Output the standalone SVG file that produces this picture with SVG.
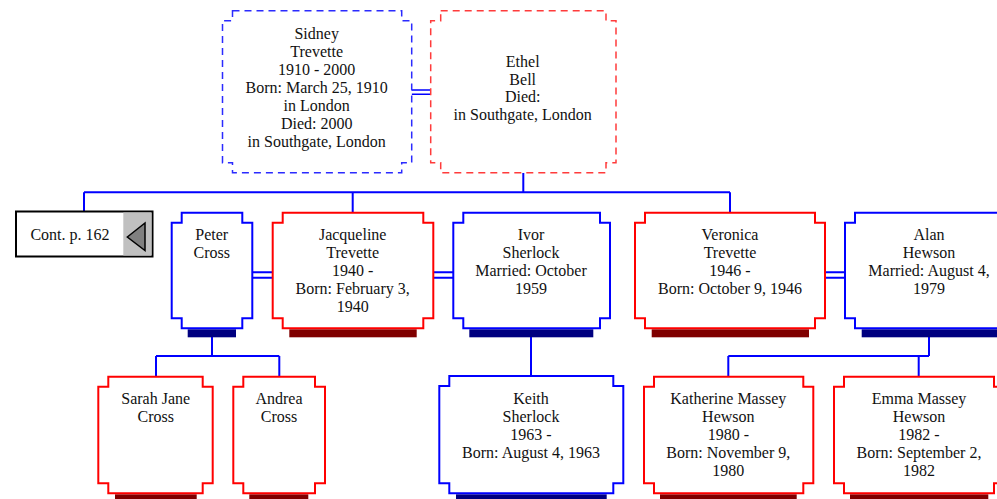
<svg xmlns="http://www.w3.org/2000/svg" width="997" height="499" viewBox="0 0 997 499">
<style>
.t{font-family:"Liberation Serif","Times New Roman",serif;font-size:16px;fill:#111;text-anchor:middle}
.bm{fill:#fff;stroke:#0000ff;stroke-width:2}
.bf{fill:#fff;stroke:#ff0000;stroke-width:2}
.dm{fill:#fff;stroke:#2b2bff;stroke-width:1.5;stroke-dasharray:7 5}
.df{fill:#fff;stroke:#ff3b3b;stroke-width:1.5;stroke-dasharray:7 5}
.sm{fill:#000080}
.sf{fill:#800000}
.c{fill:none;stroke:#0000ff;stroke-width:2}
.c2{fill:none;stroke:#0000ff;stroke-width:1.5}
</style>
<rect width="997" height="499" fill="#fff"/>
<g id="connectors">
<path class="c2" d="M411.5,90H430.5M411.5,94.3H430.5"/>
<path class="c" d="M523.3,173V192.3M84,192.3H730M84,192.3V211.5M352.7,192.3V212.7M730,192.3V212.7"/>
<path class="c" d="M252.3,272.3H272.7M252.3,277.7H272.7"/>
<path class="c" d="M433.3,272.3H453.3M433.3,277.7H453.3"/>
<path class="c" d="M825,272.3H845M825,277.7H845"/>
<path class="c" d="M212,337V356M156,356H279.3M156,356V376.7M279.3,356V376.7"/>
<path class="c" d="M531,337V376"/>
<path class="c" d="M929,337V356M728.3,356H929M728.3,356V376.7M918.7,356V376.7"/>
</g>
<g id="sidney">
<path class="dm" d="M232.5,10.7H401.7V20.7H411.7V162.7H401.7V172.7H232.5V162.7H222.5V20.7H232.5Z"/>
<text class="t" x="316.7" y="39.3">Sidney</text>
<text class="t" x="316.7" y="57.3">Trevette</text>
<text class="t" x="316.7" y="75.3">1910 - 2000</text>
<text class="t" x="316.7" y="93.3">Born: March 25, 1910</text>
<text class="t" x="316.7" y="111.3">in London</text>
<text class="t" x="316.7" y="129.3">Died: 2000</text>
<text class="t" x="316.7" y="147.3">in Southgate, London</text>
</g>
<g id="ethel">
<path class="df" d="M440.7,10.7H606V20.7H616V162.7H606V172.7H440.7V162.7H430.7V20.7H440.7Z"/>
<text class="t" x="522.7" y="66.8">Ethel</text>
<text class="t" x="522.7" y="84.6">Bell</text>
<text class="t" x="522.7" y="102.4">Died:</text>
<text class="t" x="522.7" y="120.2">in Southgate, London</text>
</g>
<g id="cont">
<rect x="16" y="211.5" width="136.5" height="45" fill="#fff" stroke="#000" stroke-width="2"/>
<rect x="123.3" y="212.5" width="28.2" height="43" fill="#c0c0c0"/>
<polygon points="127.3,237 145,223 145,250.5" fill="#808080" stroke="#000" stroke-width="1.5"/>
<text class="t" x="70" y="240">Cont. p. 162</text>
</g>
<g id="peter">
<rect class="sm" x="187.7" y="329.3" width="48.3" height="8"/>
<path class="bm" d="M181.7,212.7H242.3V222.7H252.3V318.3H242.3V328.3H181.7V318.3H171.7V222.7H181.7Z"/>
<text class="t" x="211.7" y="239.5">Peter</text>
<text class="t" x="211.7" y="257.5">Cross</text>
</g>
<g id="jacqueline">
<rect class="sf" x="289.3" y="329.3" width="127.4" height="8"/>
<path class="bf" d="M282.7,212.7H423.3V222.7H433.3V318.3H423.3V328.3H282.7V318.3H272.7V222.7H282.7Z"/>
<text class="t" x="352.7" y="239.5">Jacqueline</text>
<text class="t" x="352.7" y="257.5">Trevette</text>
<text class="t" x="352.7" y="275.5">1940 -</text>
<text class="t" x="352.7" y="293.5">Born: February 3,</text>
<text class="t" x="352.7" y="311.5">1940</text>
</g>
<g id="ivor">
<rect class="sm" x="469.3" y="329.3" width="124" height="8"/>
<path class="bm" d="M463.3,212.7H600V222.7H610V318.3H600V328.3H463.3V318.3H453.3V222.7H463.3Z"/>
<text class="t" x="531" y="239.5">Ivor</text>
<text class="t" x="531" y="257.5">Sherlock</text>
<text class="t" x="531" y="275.5">Married: October</text>
<text class="t" x="531" y="293.5">1959</text>
</g>
<g id="veronica">
<rect class="sf" x="651.7" y="329.3" width="157.3" height="8"/>
<path class="bf" d="M645,212.7H815V222.7H825V318.3H815V328.3H645V318.3H635V222.7H645Z"/>
<text class="t" x="730" y="239.5">Veronica</text>
<text class="t" x="730" y="257.5">Trevette</text>
<text class="t" x="730" y="275.5">1946 -</text>
<text class="t" x="730" y="293.5">Born: October 9, 1946</text>
</g>
<g id="alan">
<rect class="sm" x="861.7" y="329.3" width="135.3" height="8"/>
<path class="bm" d="M855,212.7H1003V222.7H1013V318.3H1003V328.3H855V318.3H845V222.7H855Z"/>
<text class="t" x="929" y="239.5">Alan</text>
<text class="t" x="929" y="257.5">Hewson</text>
<text class="t" x="929" y="275.5">Married: August 4,</text>
<text class="t" x="929" y="293.5">1979</text>
</g>
<g id="sarah">
<rect class="sf" x="115" y="494.3" width="81.7" height="6"/>
<path class="bf" d="M108.3,376.7H202.7V386.7H212.7V483.3H202.7V493.3H108.3V483.3H98.3V386.7H108.3Z"/>
<text class="t" x="155.7" y="404">Sarah Jane</text>
<text class="t" x="155.7" y="422">Cross</text>
</g>
<g id="andrea">
<rect class="sf" x="249.3" y="494.3" width="59" height="6"/>
<path class="bf" d="M243.3,376.7H315V386.7H325V483.3H315V493.3H243.3V483.3H233.3V386.7H243.3Z"/>
<text class="t" x="279" y="404">Andrea</text>
<text class="t" x="279" y="422">Cross</text>
</g>
<g id="keith">
<rect class="sm" x="456" y="494.3" width="150.7" height="6"/>
<path class="bm" d="M449.3,376H613.3V386H623.3V483.3H613.3V493.3H449.3V483.3H439.3V386H449.3Z"/>
<text class="t" x="531" y="404">Keith</text>
<text class="t" x="531" y="422">Sherlock</text>
<text class="t" x="531" y="440">1963 -</text>
<text class="t" x="531" y="458">Born: August 4, 1963</text>
</g>
<g id="katherine">
<rect class="sf" x="660" y="494.3" width="136.7" height="6"/>
<path class="bf" d="M654,376.7H803.3V386.7H813.3V483.3H803.3V493.3H654V483.3H644V386.7H654Z"/>
<text class="t" x="728.3" y="404">Katherine Massey</text>
<text class="t" x="728.3" y="422">Hewson</text>
<text class="t" x="728.3" y="440">1980 -</text>
<text class="t" x="728.3" y="458">Born: November 9,</text>
<text class="t" x="728.3" y="476">1980</text>
</g>
<g id="emma">
<rect class="sf" x="850" y="494.3" width="138.3" height="6"/>
<path class="bf" d="M844,376.7H994V386.7H1004V483.3H994V493.3H844V483.3H834V386.7H844Z"/>
<text class="t" x="919" y="404">Emma Massey</text>
<text class="t" x="919" y="422">Hewson</text>
<text class="t" x="919" y="440">1982 -</text>
<text class="t" x="919" y="458">Born: September 2,</text>
<text class="t" x="919" y="476">1982</text>
</g>
</svg>
